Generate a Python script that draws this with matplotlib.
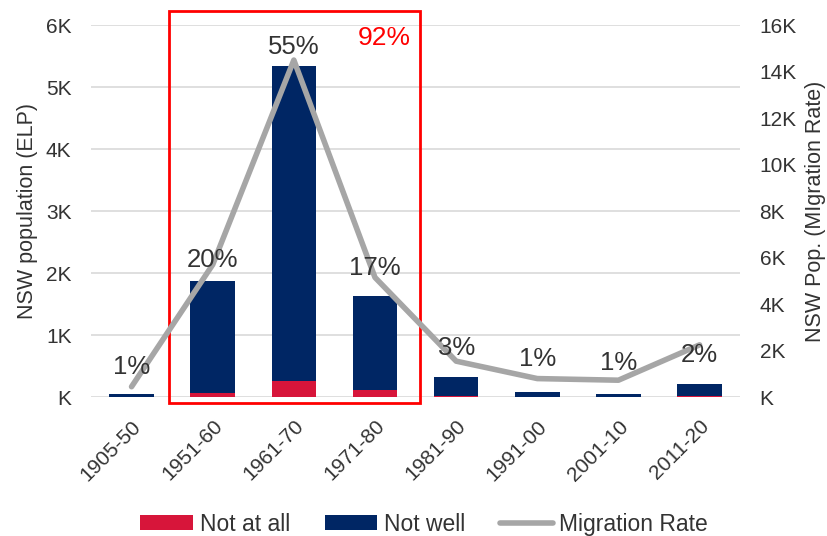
import matplotlib.pyplot as plt
from matplotlib.patches import Rectangle
from matplotlib.ticker import FuncFormatter
import numpy as np

plt.rcParams['font.family'] = ['Liberation Sans', 'DejaVu Sans']

periods = ['1905-50', '1951-60', '1961-70', '1971-80', '1981-90', '1991-00', '2001-10', '2011-20']
not_at_all = [5, 60, 260, 115, 12, 4, 3, 12]
not_well = [40, 1815, 5080, 1510, 306, 76, 47, 208]
migration = [450, 5700, 14500, 5150, 1550, 800, 730, 2250]
pct_labels = ['1%', '20%', '55%', '17%', '3%', '1%', '1%', '2%']
pct_label_y = [1300, 5900, 15050, 5550, 2100, 1650, 1450, 1800]

red = '#D7153A'
navy = '#002664'
grey = '#A6A6A6'
txt = '#333333'

fig = plt.figure(figsize=(8.27, 5.36), dpi=100)
ax = fig.add_axes([0.110, 0.259, 0.785, 0.694])
ax2 = ax.twinx()

x = np.arange(len(periods))
w = 0.55
ax.bar(x, not_at_all, w, color=red, label='Not at all', zorder=2)
ax.bar(x, not_well, w, bottom=not_at_all, color=navy, label='Not well', zorder=2)
ax2.plot(x, migration, color=grey, lw=4, label='Migration Rate', solid_capstyle='round', zorder=3)

ax.set_ylim(0, 6000)
ax.set_yticks(np.arange(0, 6001, 1000))
ax2.set_ylim(0, 16000)
ax2.set_yticks(np.arange(0, 16001, 2000))
ax.set_xlim(-0.5, 7.5)

kfmt = FuncFormatter(lambda v, p: 'K' if v == 0 else f'{int(v / 1000)}K')
ax.yaxis.set_major_formatter(kfmt)
ax2.yaxis.set_major_formatter(kfmt)

ax.grid(axis='y', color='#D9D9D9', lw=1.2, zorder=0)
ax.set_axisbelow(True)
for a in (ax, ax2):
    for s in a.spines.values():
        s.set_visible(False)
    a.tick_params(length=0, labelsize=15, colors=txt, pad=14)

ax.set_xticks(x)
ax.set_xticklabels(periods, rotation=45, ha='right', rotation_mode='anchor')
ax.tick_params(axis='x', pad=14)

ax.set_ylabel('NSW population (ELP)', fontsize=15.5, color=txt, labelpad=6)
ax2.set_ylabel('NSW Pop. (MIgration Rate)', fontsize=15.5, color=txt, labelpad=6)

for i, (lab, yy) in enumerate(zip(pct_labels, pct_label_y)):
    ax2.text(x[i], yy, lab, ha='center', va='center', fontsize=18.5, color=txt, zorder=4)

ax.add_patch(Rectangle((0.457, -97), 3.1, 6330, fill=False, edgecolor='#FF0000', lw=2,
                       clip_on=False, zorder=5))
ax.text(3.12, 5790, '92%', ha='center', va='center', fontsize=19, color='#FF0000')

h1, l1 = ax.get_legend_handles_labels()
h2, l2 = ax2.get_legend_handles_labels()
fig.legend(h1 + h2, l1 + l2, loc='center', bbox_to_anchor=(0.513, 0.022), ncol=3,
           frameon=False, prop={'family': ['Liberation Sans Narrow', 'Liberation Sans'], 'size': 16.5},
           labelcolor=txt, handlelength=2.3, handleheight=0.6,
           columnspacing=1.5, handletextpad=0.3)

fig.savefig('out.png', dpi=100)
